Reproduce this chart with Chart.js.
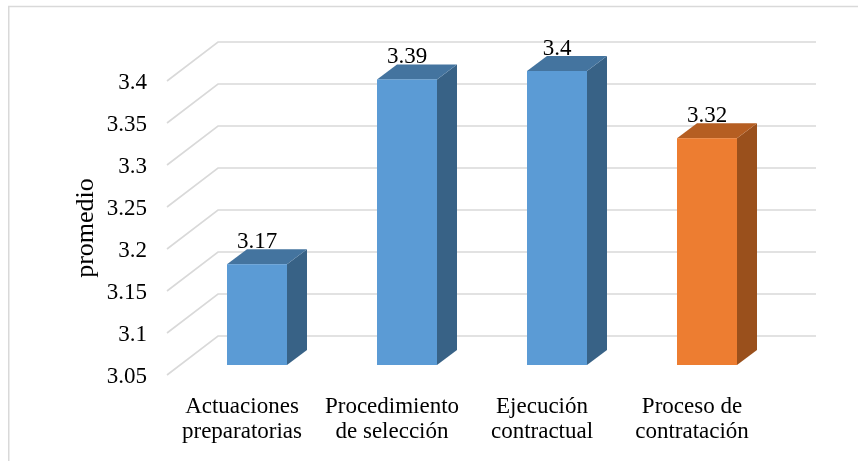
<!DOCTYPE html>
<html>
<head>
<meta charset="utf-8">
<script src="https://cdn.jsdelivr.net/npm/chart.js@4/dist/chart.umd.min.js"></script>
<style>
  html, body { margin: 0; padding: 0; background: #ffffff; }
  canvas { display: block; }
</style>
</head>
<body>
<canvas id="chart" width="858" height="461"></canvas>
<script>
// Categories (two-line labels) and their mean scores
const categories = [
  ['Actuaciones', 'preparatorias'],
  ['Procedimiento', 'de selección'],
  ['Ejecución', 'contractual'],
  ['Proceso de', 'contratación']
];
const promedios = [3.17, 3.39, 3.4, 3.32];
const yTicks = [3.05, 3.1, 3.15, 3.2, 3.25, 3.3, 3.35, 3.4];
const yTickLabels = ['3.05', '3.1', '3.15', '3.2', '3.25', '3.3', '3.35', '3.4'];
const axisTitle = 'promedio';

// Face colours per bar: front, top, side
const frontColors = ['#5B9BD5', '#5B9BD5', '#5B9BD5', '#ED7D31'];
const topColors   = ['#44749F', '#44749F', '#44749F', '#B55E22'];
const sideColors  = ['#386286', '#386286', '#386286', '#9A501C'];

const FONT = '"Liberation Serif", "Times New Roman", serif';

// Oblique depth of the back wall and of each bar
const WALL_DX = 51, WALL_DY = 39;
const BAR_OFF_X = 15, BAR_OFF_Y = 10;
const BAR_DEPTH_X = 20, BAR_DEPTH_Y = 15;

const framePlugin = {
  id: 'frame',
  beforeDraw(chart) {
    const ctx = chart.ctx;
    ctx.save();
    ctx.strokeStyle = '#d9d9d9';
    ctx.lineWidth = 1.5;
    ctx.beginPath();
    ctx.moveTo(8.75, 461);
    ctx.lineTo(8.75, 6.5);
    ctx.lineTo(858, 6.5);
    ctx.stroke();
    ctx.restore();
  }
};

// Gridlines folded onto the side and the back wall
const wallGridPlugin = {
  id: 'wallGrid',
  beforeDatasetsDraw(chart) {
    const ctx = chart.ctx;
    const y = chart.scales.y;
    const area = chart.chartArea;
    ctx.save();
    ctx.strokeStyle = '#d9d9d9';
    ctx.lineWidth = 1.6;
    yTicks.forEach(v => {
      const py = y.getPixelForValue(v);
      ctx.beginPath();
      ctx.moveTo(area.left, py);
      ctx.lineTo(area.left + WALL_DX, py - WALL_DY);
      ctx.lineTo(area.right + WALL_DX - 2, py - WALL_DY);
      ctx.stroke();
    });
    ctx.restore();
  }
};

// Box-shaped bars built from each bar element's scale positions
const boxBarsPlugin = {
  id: 'boxBars',
  afterDatasetsDraw(chart) {
    const ctx = chart.ctx;
    const yScale = chart.scales.y;
    const floor = yScale.getPixelForValue(yScale.min);
    const meta = chart.getDatasetMeta(0);
    ctx.save();
    meta.data.forEach((bar, i) => {
      const p = bar.getProps(['x', 'y', 'width'], true);
      const x0 = p.x - p.width / 2 + BAR_OFF_X;
      const x1 = p.x + p.width / 2 + BAR_OFF_X;
      const yt = p.y - BAR_OFF_Y;
      const yb = floor - BAR_OFF_Y;
      // side
      ctx.fillStyle = sideColors[i];
      ctx.beginPath();
      ctx.moveTo(x1, yt);
      ctx.lineTo(x1 + BAR_DEPTH_X, yt - BAR_DEPTH_Y);
      ctx.lineTo(x1 + BAR_DEPTH_X, yb - BAR_DEPTH_Y);
      ctx.lineTo(x1, yb);
      ctx.closePath();
      ctx.fill();
      // top
      ctx.fillStyle = topColors[i];
      ctx.beginPath();
      ctx.moveTo(x0, yt);
      ctx.lineTo(x1, yt);
      ctx.lineTo(x1 + BAR_DEPTH_X, yt - BAR_DEPTH_Y);
      ctx.lineTo(x0 + BAR_DEPTH_X, yt - BAR_DEPTH_Y);
      ctx.closePath();
      ctx.fill();
      // front
      ctx.fillStyle = frontColors[i];
      ctx.fillRect(x0, yt, x1 - x0, yb - yt);
      // value label
      ctx.fillStyle = '#000000';
      ctx.font = '23px ' + FONT;
      ctx.textAlign = 'center';
      ctx.textBaseline = 'alphabetic';
      ctx.fillText(String(promedios[i]), (x0 + x1) / 2, yt - BAR_DEPTH_Y - 1);
    });
    ctx.restore();
  }
};

new Chart(document.getElementById('chart'), {
  type: 'bar',
  data: {
    labels: categories,
    datasets: [{
      data: promedios,
      backgroundColor: 'rgba(0,0,0,0)',
      borderWidth: 0,
      categoryPercentage: 1,
      barPercentage: 0.4
    }]
  },
  options: {
    responsive: false,
    animation: false,
    events: [],
    layout: { padding: { left: 71, top: 81, right: 91, bottom: 0 } },
    plugins: {
      legend: { display: false },
      tooltip: { enabled: false },
      title: { display: false }
    },
    scales: {
      x: {
        grid: { display: false, drawTicks: false },
        border: { display: false },
        ticks: {
          color: '#000000',
          padding: 19,
          maxRotation: 0,
          autoSkip: false,
          font: { family: FONT, size: 23, lineHeight: 1.087 }
        },
        afterFit(scale) { scale.height = 86; }
      },
      y: {
        min: 3.05,
        max: 3.4,
        grid: { display: false, drawTicks: false },
        border: { display: false },
        afterBuildTicks(scale) { scale.ticks = yTicks.map(v => ({ value: v })); },
        ticks: {
          color: '#000000',
          padding: 20,
          labelOffset: 2,
          font: { family: FONT, size: 23 },
          callback(value) {
            const i = yTicks.findIndex(t => Math.abs(t - value) < 1e-9);
            return i >= 0 ? yTickLabels[i] : '';
          }
        },
        title: {
          display: true,
          text: axisTitle,
          color: '#000000',
          padding: 0,
          font: { family: FONT, size: 26 }
        },
        afterFit(scale) { scale.width = 96; }
      }
    }
  },
  plugins: [framePlugin, wallGridPlugin, boxBarsPlugin]
});
</script>
</body>
</html>
